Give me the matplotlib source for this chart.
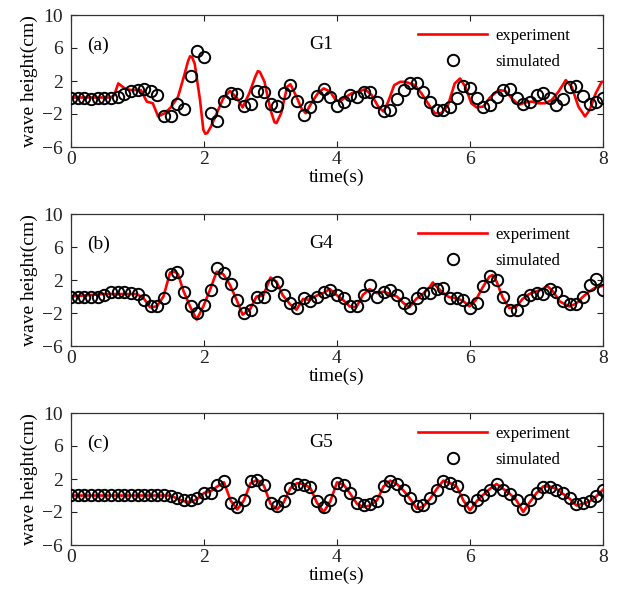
import numpy as np
import matplotlib
matplotlib.use("Agg")
import matplotlib.pyplot as plt

plt.rcParams['font.family'] = ['Liberation Serif', 'DejaVu Serif']
plt.rcParams['mathtext.fontset'] = 'stix'

# Sampling times of the simulated series (s)
t_sim = np.round(np.arange(81) * 0.1, 1)

# ---- G1 ----
g1_sim = [0.0, 0.0, -0.1, -0.2, -0.1, 0.0, 0.0, 0.1, 0.4, 0.8,
          0.9, 1.0, 0.8, 0.3, -2.2, -2.2, -0.8, -1.4, 2.6, 5.6,
          4.9, -1.9, -2.9, -0.4, 0.6, 0.4, -1.0, -0.8, 0.8, 0.7,
          -0.8, -1.0, 0.6, 1.5, -0.4, -2.1, -1.2, 0.2, 1.0, 0.1,
          -1.0, -0.5, 0.3, 0.1, 0.7, 0.7, -0.5, -1.6, -1.5, -0.2,
          0.9, 1.7, 1.8, 0.7, -0.5, -1.5, -1.5, -1.1, 0.0, 1.4,
          1.1, -0.1, -1.2, -0.9, 0.1, 0.9, 1.0, 0.0, -0.8, -0.6,
          0.3, 0.5, -0.1, -0.9, -0.2, 1.3, 1.4, 0.2, -0.8, -0.6,
          -0.1]
g1_exp_t = [0.0, 0.3, 0.6, 0.65, 0.71, 0.81, 0.9, 1.05, 1.14, 1.23,
            1.31, 1.41, 1.5, 1.61, 1.71, 1.76, 1.79, 1.82, 1.86, 1.94,
            1.99, 2.02, 2.05, 2.1, 2.17, 2.29, 2.39, 2.49, 2.58, 2.68,
            2.77, 2.81, 2.84, 2.91, 3.0, 3.06, 3.09, 3.16, 3.25, 3.3,
            3.39, 3.47, 3.53, 3.62, 3.72, 3.8, 3.9, 3.97, 4.04, 4.12,
            4.22, 4.32, 4.42, 4.52, 4.62, 4.7, 4.77, 4.86, 4.95, 5.02,
            5.1, 5.17, 5.27, 5.4, 5.47, 5.57, 5.67, 5.77, 5.85, 5.93,
            6.02, 6.1, 6.2, 6.3, 6.43, 6.53, 6.63, 6.73, 6.83, 6.93,
            7.03, 7.13, 7.23, 7.33, 7.44, 7.53, 7.63, 7.73, 7.8, 7.89,
            7.98, 8.0]
g1_exp = [0.0, 0.0, 0.0, 0.3, 1.7, 1.1, 0.9, 0.9, -0.5, -0.7,
          -2.3, -1.9, -1.2, 0.1, 2.9, 4.4, 5.0, 4.9, 4.1, -0.3,
          -3.9, -4.4, -4.3, -3.6, -2.3, -0.1, 0.8, 0.0, -1.2, 0.5,
          2.5, 3.2, 3.1, 1.9, -1.5, -3.0, -3.1, -1.9, 1.3, 1.6,
          0.1, -1.4, -1.9, -0.6, 0.6, 1.1, 0.7, -0.2, -0.5, 0.0,
          0.5, 0.7, 1.0, 0.3, -1.1, -1.7, -0.5, 1.5, 1.9, 1.9,
          1.7, 1.5, 0.5, -1.1, -1.9, -1.9, -0.9, 1.7, 2.3, 1.3,
          -0.7, -1.2, -1.1, 0.0, 0.9, 0.8, -0.1, -0.9, -0.6, -0.5,
          -0.7, -0.7, -0.3, 0.7, 2.1, 1.3, -1.1, -2.3, -1.5, 0.5,
          1.9, 1.9]

# ---- G4 ----
g4_sim = [0.0, 0.0, 0.0, 0.0, 0.0, 0.2, 0.5, 0.5, 0.5, 0.4,
          0.3, -0.4, -1.2, -1.2, -0.2, 2.7, 3.0, 0.6, -1.2, -2.0,
          -1.0, 0.8, 3.4, 2.8, 1.5, -0.4, -2.0, -1.6, 0.0, 0.0,
          1.4, 1.7, 0.2, -0.8, -1.4, -0.2, -0.5, 0.0, 0.5, 0.8,
          0.2, -0.2, -1.2, -1.2, 0.2, 1.4, 0.0, 0.6, 0.8, 0.2,
          -0.8, -1.4, -0.2, 0.4, 0.4, 0.9, 1.0, -0.2, -0.2, -0.4,
          -1.4, -0.8, 1.3, 2.5, 2.0, -0.1, -1.6, -1.6, -0.4, 0.2,
          0.4, 0.3, 0.9, 0.6, -0.6, -0.9, -0.9, -0.1, 1.4, 2.1,
          0.8]
g4_exp_t = [0.0, 0.49, 0.99, 1.09, 1.19, 1.29, 1.39, 1.49, 1.56, 1.61,
            1.69, 1.79, 1.89, 1.99, 2.09, 2.19, 2.29, 2.39, 2.49, 2.58,
            2.69, 2.79, 2.89, 3.0, 3.09, 3.18, 3.29, 3.39, 3.49, 3.59,
            3.69, 3.79, 3.89, 3.99, 4.09, 4.19, 4.29, 4.39, 4.49, 4.6,
            4.7, 4.8, 4.9, 5.0, 5.09, 5.19, 5.29, 5.39, 5.44, 5.51,
            5.6, 5.69, 5.79, 5.89, 5.99, 6.09, 6.19, 6.29, 6.34, 6.4,
            6.49, 6.59, 6.69, 6.79, 6.89, 6.99, 7.09, 7.16, 7.25, 7.35,
            7.49, 7.59, 7.69, 7.79, 7.89, 8.0]
g4_exp = [0.0, 0.3, 0.3, -0.2, -1.3, -1.2, 0.0, 2.9, 3.0, 2.7,
          0.7, -1.2, -2.8, -1.2, 0.8, 3.0, 2.7, 1.4, -0.4, -2.2,
          -1.6, 0.0, 0.1, 2.3, 1.8, 0.2, -0.9, -1.6, -0.3, -0.4,
          0.1, 0.4, 0.9, 0.2, -0.4, -1.2, -1.3, 0.2, 0.9, 0.4,
          0.6, 0.3, 0.0, -0.8, -1.3, -0.3, 0.3, 1.1, 1.7, 1.1,
          0.4, -0.1, -0.2, -0.5, -1.2, -0.4, 1.1, 2.4, 2.6, 1.8,
          -0.1, -1.4, -1.3, -0.3, 0.3, 0.6, 0.9, 1.3, 0.6, -0.6,
          -1.2, -0.9, -0.1, 0.6, 1.1, 1.3]

# ---- G5 ----
g5_sim = [0.1, 0.1, 0.1, 0.1, 0.1, 0.1, 0.1, 0.1, 0.1, 0.1,
          0.1, 0.1, 0.1, 0.1, 0.1, 0.0, -0.3, -0.5, -0.5, -0.3,
          0.3, 0.3, 1.3, 1.7, -0.9, -1.4, -0.5, 1.7, 1.9, 1.3,
          -0.9, -1.3, -0.7, 0.9, 1.4, 1.3, 1.0, -0.7, -1.4, -0.5,
          1.5, 1.3, 0.3, -0.9, -1.2, -1.0, -0.7, 1.1, 1.7, 1.4,
          0.7, -0.3, -1.3, -1.2, -0.3, 0.7, 1.7, 1.5, 1.2, -0.5,
          -1.4, -0.5, 0.1, 0.7, 1.4, 0.7, 0.2, -0.5, -1.6, -0.6,
          0.3, 1.0, 1.0, 0.7, 0.3, -0.3, -1.0, -0.9, -0.7, -0.1,
          0.7]
g5_exp = [0.0, 0.0, 0.0, 0.0, 0.0, 0.0, 0.0, 0.0, 0.0, 0.0,
          0.0, 0.0, 0.0, 0.0, 0.0, 0.0, -0.4, -0.7, -0.8, -0.4,
          0.3, 0.5, 1.1, 1.6, -0.6, -1.7, -0.6, 1.5, 1.9, 1.2,
          -1.0, -1.7, -0.8, 0.9, 1.5, 1.4, 0.9, -0.9, -2.0, -0.7,
          1.6, 1.3, 0.2, -1.0, -1.4, -1.2, -0.6, 1.1, 1.8, 1.4,
          0.6, -0.4, -1.6, -1.3, -0.4, 0.8, 1.8, 1.5, 1.1, -0.6,
          -1.8, -0.7, 0.1, 0.8, 1.4, 0.8, 0.2, -0.6, -2.0, -0.8,
          0.3, 1.1, 1.1, 0.8, 0.2, -0.4, -1.2, -1.0, -0.7, -0.1,
          0.7]

panels = [
    ("(a)", "G1", g1_exp_t, g1_exp, g1_sim),
    ("(b)", "G4", g4_exp_t, g4_exp, g4_sim),
    ("(c)", "G5", list(t_sim), g5_exp, g5_sim),
]

x_ticks = [0, 2, 4, 6, 8]
y_ticks = [-6, -2, 2, 6, 10]

W, H = 619, 603
fig = plt.figure(figsize=(W / 100, H / 100), dpi=100)

left, right = 71, 603
tops = [15, 214, 413]
ax_h = 132

for (tag, gauge, et, ev, sv), top in zip(panels, tops):
    ax = fig.add_axes([left / W, 1 - (top + ax_h) / H, (right - left) / W, ax_h / H])
    ax.plot(et, ev, color='#ff0000', lw=1.9, label='experiment', zorder=2)
    ax.plot(t_sim, sv, ls='none', marker='o', ms=8.2, mfc='none', mec='black',
            mew=1.4, label='simulated', zorder=3)
    ax.set_xlim(0, 8)
    ax.set_ylim(-6, 10)
    ax.set_xticks(x_ticks)
    ax.set_yticks(y_ticks)
    ax.tick_params(direction='in', top=True, right=True, length=4,
                   width=0.8, labelsize=14, colors='#222222')
    ax.tick_params(axis='x', pad=3)
    ax.tick_params(axis='y', pad=6)
    for s in ax.spines.values():
        s.set_linewidth(0.9)
        s.set_color('#333333')
    ax.set_xlabel('time(s)', fontsize=14)
    ax.xaxis.set_label_coords(0.5, -0.162)
    ax.set_ylabel('wave height(cm)', fontsize=14, labelpad=3)
    ax.text(0.03, 0.77, tag, transform=ax.transAxes, fontsize=14,
            ha='left', va='center')
    ax.text(0.47, 0.775, gauge, transform=ax.transAxes, fontsize=14,
            ha='center', va='center')
    ax.legend(loc='upper left', bbox_to_anchor=((418 - left) / (right - left), 0.905),
              frameon=False, fontsize=12, handlelength=4.15, handletextpad=0.5,
              labelspacing=0.62, borderpad=0, borderaxespad=0)

fig.savefig('out.png', dpi=100)
